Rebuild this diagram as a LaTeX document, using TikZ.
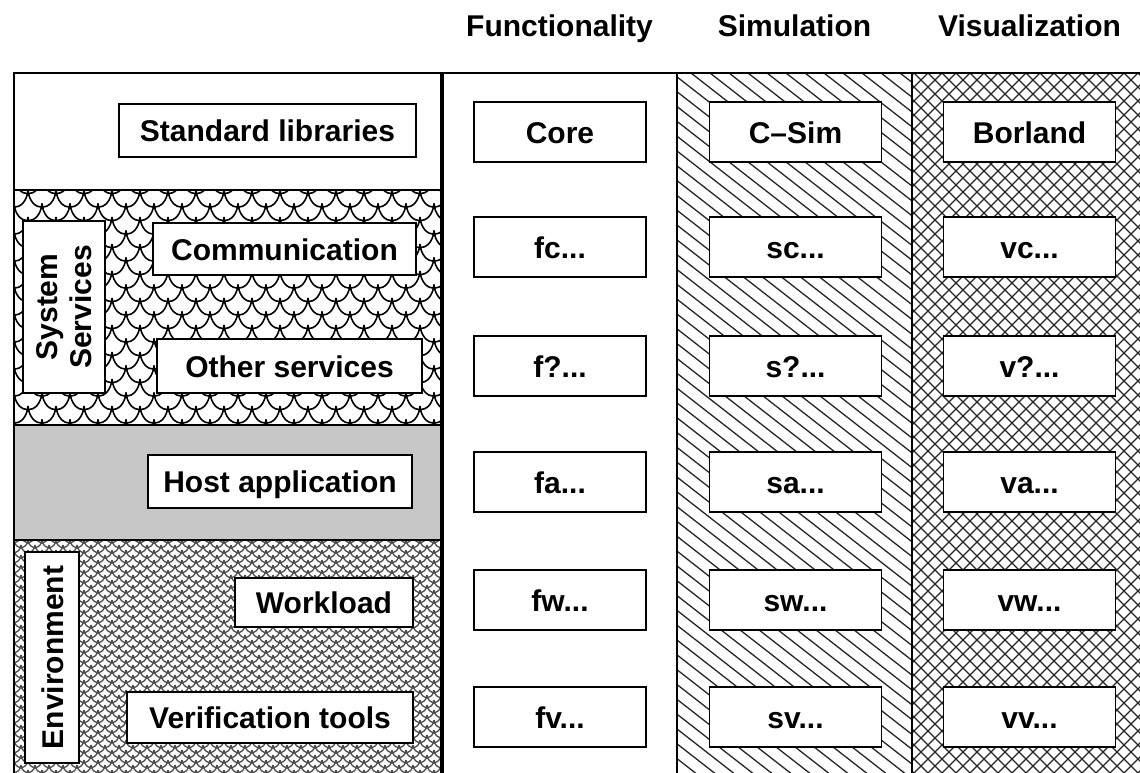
\documentclass[tikz,border=0pt]{standalone}
\usepackage{fontspec}
\setmainfont{Liberation Sans}
\begin{document}
\begin{tikzpicture}[x=1pt,y=-1pt,
  txt/.style={font=\fontsize{30}{34}\selectfont\bfseries},
  lbox/.style={draw, fill=white, line width=1.8pt, inner sep=0pt, txt, text height=22pt, text depth=0pt},
  cbox/.style={lbox, minimum width=172pt, minimum height=60pt},
  hdr/.style={txt, anchor=base, inner sep=0pt},
  rule/.style={line width=2pt},
  hatch/.style={line width=1.3pt, black!85},
  scale line/.style={line width=1.6pt},
  net/.style={line width=1.3pt, black!70}]
\useasboundingbox (0,0) rectangle (1140,773);
\fill[white] (0,0) rectangle (1140,773);
\fill[black!22] (14,425) rectangle (442,540);
% System services: large fish scales
\begin{scope}
\clip (14,190) rectangle (442,425);
\foreach \k in {-2,...,18}{
  \pgfmathsetmacro\yy{190+13.5*\k}
  \pgfmathsetmacro\off{mod(\k+2,2)*14}
  \foreach \i in {-1,...,16}{
    \pgfmathsetmacro\xx{\off+28*\i}
    \draw[scale line] (\xx,\yy) .. controls (\xx+2,\yy+23) and (\xx+26,\yy+23) .. (\xx+28,\yy);
  }
}
\end{scope}
% Environment: small fish scales
\begin{scope}
\clip (14,540) rectangle (442,773);
\foreach \k in {-3,...,46}{
  \pgfmathsetmacro\yy{540+5*\k}
  \pgfmathsetmacro\off{mod(\k+4,2)*7}
  \foreach \i in {-1,...,32}{
    \pgfmathsetmacro\xx{\off+14*\i}
    \draw[net] (\xx,\yy) .. controls (\xx+1,\yy+10) and (\xx+13,\yy+10) .. (\xx+14,\yy);
  }
}
\end{scope}
% Simulation hatch
\begin{scope}
\clip (677,73) rectangle (912,773);
\foreach \c in {-240,-221,...,920}{
  \draw[hatch] (\c,73) -- ++(900,702);
}
\end{scope}
% Visualization crosshatch
\begin{scope}
\clip (912,73) rectangle (1140,773);
\foreach \c in {200,214,...,1860}{
  \draw[hatch] (\c,73) -- ++(700,700);
  \draw[hatch] (\c,73) -- ++(-700,700);
}
\end{scope}
% frame lines
\coordinate (tl) at (14,73);
\coordinate (tr) at (1140,73);
\coordinate (bl) at (14,773);
\coordinate (mt) at (442,73);
\coordinate (mb) at (442,773);
\draw[rule] (bl) -- (tl) -- (tr);
\draw[line width=4pt] (mt) -- (mb);
\coordinate (s1l) at (14,190); \coordinate (s1r) at (442,190);
\coordinate (s2l) at (14,425); \coordinate (s2r) at (442,425);
\coordinate (s3l) at (14,540); \coordinate (s3r) at (442,540);
\draw[rule] (s1l) -- (s1r);
\draw[rule] (s2l) -- (s2r);
\draw[rule] (s3l) -- (s3r);
\coordinate (d1t) at (677,73); \coordinate (d1b) at (677,773);
\coordinate (d2t) at (912,73); \coordinate (d2b) at (912,773);
\draw[line width=1.5pt] (d1t) -- (d1b);
\draw[line width=1.5pt] (d2t) -- (d2b);
% headers
\node[hdr] (hf) at (559.5,37) {Functionality};
\node[hdr] (hs) at (794.5,37) {Simulation};
\node[hdr] (hv) at (1029.5,37) {Visualization};
% left boxes
\node[lbox, minimum width=297pt, minimum height=53pt] (std) at (267.5,130.5) {Standard libraries};
\node[lbox, minimum width=263pt, minimum height=52pt] (com) at (284.5,249) {Communication};
\node[lbox, minimum width=265pt, minimum height=54pt] (oth) at (289.5,366) {Other services};
\node[lbox, minimum width=264pt, minimum height=53pt] (hst) at (280,481.5) {Host application};
\node[lbox, minimum width=178pt, minimum height=49pt] (wkl) at (324,602.5) {Workload};
\node[lbox, minimum width=286pt, minimum height=51pt] (ver) at (270,717.5) {Verification tools};
\node[lbox, rotate=90, minimum width=172pt, minimum height=82pt, align=center, text height=, text depth=] (sys) at (64,307) {System\\Services};
\node[lbox, rotate=90, minimum width=211pt, minimum height=54pt] (env) at (52,657.5) {Environment};
% column boxes
\node[cbox] (f1) at (560,132) {Core};
\node[cbox] (f2) at (560,247) {fc...};
\node[cbox] (f3) at (560,366) {f?...};
\node[cbox] (f4) at (560,482) {fa...};
\node[cbox] (f5) at (560,600) {fw...};
\node[cbox] (f6) at (560,717) {fv...};
\node[cbox] (s1) at (795.5,132) {C--Sim};
\node[cbox] (s2) at (795.5,247) {sc...};
\node[cbox] (s3) at (795.5,366) {s?...};
\node[cbox] (s4) at (795.5,482) {sa...};
\node[cbox] (s5) at (795.5,600) {sw...};
\node[cbox] (s6) at (795.5,717) {sv...};
\node[cbox] (v1) at (1029.5,132) {Borland};
\node[cbox] (v2) at (1029.5,247) {vc...};
\node[cbox] (v3) at (1029.5,366) {v?...};
\node[cbox] (v4) at (1029.5,482) {va...};
\node[cbox] (v5) at (1029.5,600) {vw...};
\node[cbox] (v6) at (1029.5,717) {vv...};
\end{tikzpicture}
\end{document}
